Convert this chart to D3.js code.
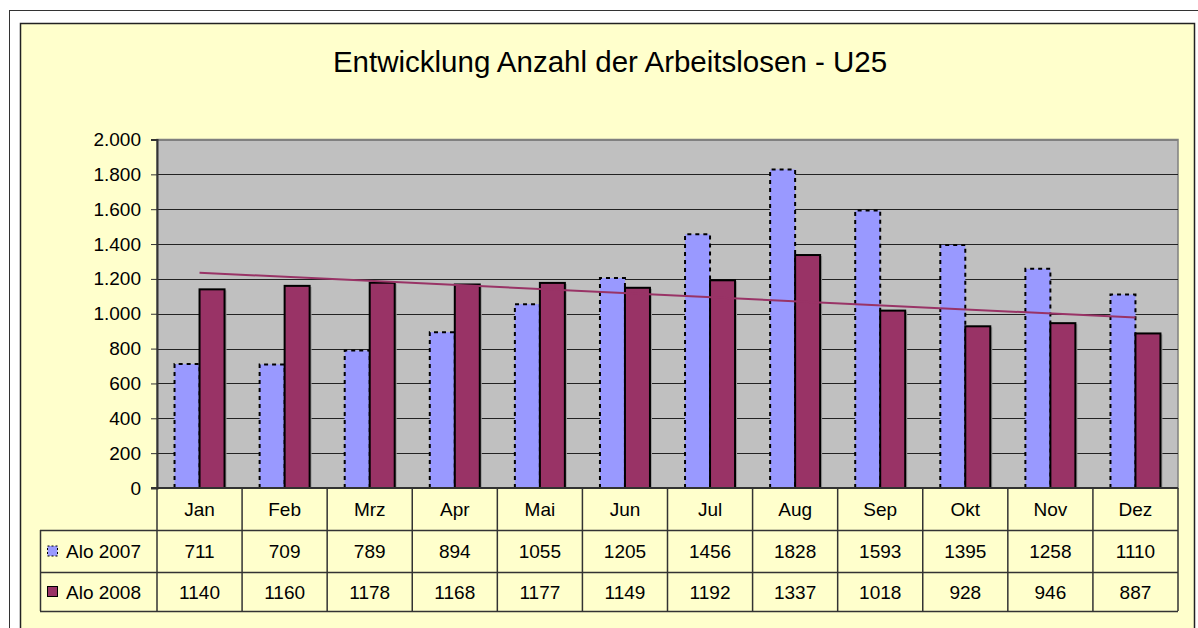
<!DOCTYPE html>
<html>
<head>
<meta charset="utf-8">
<script src="https://cdn.jsdelivr.net/npm/d3@7"></script>
<style>
  body { margin: 0; background: #fff; }
  svg { display: block; font-family: "Liberation Sans", Arial, sans-serif; }
</style>
</head>
<body>
<div id="chart"></div>
<script>
let w = 1198,
    h = 628;

// data
let months = ["Jan", "Feb", "Mrz", "Apr", "Mai", "Jun", "Jul", "Aug", "Sep", "Okt", "Nov", "Dez"];
let alo2007 = [711, 709, 789, 894, 1055, 1205, 1456, 1828, 1593, 1395, 1258, 1110];
let alo2008 = [1140, 1160, 1178, 1168, 1177, 1149, 1192, 1337, 1018, 928, 946, 887];
let seriesNames = ["Alo 2007", "Alo 2008"];
let yTicks = [0, 200, 400, 600, 800, 1000, 1200, 1400, 1600, 1800, 2000];

let plot = { left: 157, right: 1178, top: 139.5, bottom: 488 };
let tableLeft = 40;
let rowY = [488, 530, 572, 611];
let fs = "19px";

let svg = d3.select("#chart")
            .append("svg")
            .attr("width", w)
            .attr("height", h);

// frames
svg.append("rect")
   .attr("x", 9.5).attr("y", 10.5)
   .attr("width", 1200).attr("height", 640)
   .attr("fill", "#fff")
   .attr("stroke", "#333").attr("stroke-width", 1);

svg.append("rect")
   .attr("x", 20.5).attr("y", 23.5)
   .attr("width", 1174).attr("height", 640)
   .attr("fill", "#FFFFCC")
   .attr("stroke", "#222").attr("stroke-width", 1.5);

// title
svg.append("text")
   .attr("x", 610).attr("y", 72)
   .attr("text-anchor", "middle")
   .style("font-size", "29.5px")
   .attr("fill", "#000")
   .text("Entwicklung Anzahl der Arbeitslosen - U25");

let x = d3.scaleBand()
          .domain(months)
          .range([plot.left, plot.right]);

let y = d3.scaleLinear()
          .domain([0, 2000])
          .range([plot.bottom, plot.top]);

// plot background
svg.append("rect")
   .attr("x", plot.left).attr("y", plot.top)
   .attr("width", plot.right - plot.left).attr("height", plot.bottom - plot.top)
   .attr("fill", "#C0C0C0")
   .attr("stroke", "#808080").attr("stroke-width", 1.5);

// gridlines
svg.selectAll(".grid")
   .data(yTicks.slice(1))
   .enter()
   .append("line")
   .attr("x1", plot.left).attr("x2", plot.right)
   .attr("y1", d => Math.round(y(d)) + 0.5)
   .attr("y2", d => Math.round(y(d)) + 0.5)
   .attr("stroke", d => d == 2000 ? "#808080" : "#222")
   .attr("stroke-width", 1);

// y axis
let yAxis = d3.axisLeft(y)
              .tickValues(yTicks)
              .tickSize(6)
              .tickPadding(10)
              .tickFormat(d => d3.format(",")(d).replace(/,/g, "."));

let ya = svg.append("g")
            .attr("transform", "translate(" + plot.left + ",0)")
            .call(yAxis);
ya.select(".domain").attr("stroke", "#333").attr("stroke-width", 2);
ya.selectAll(".tick line").attr("stroke", "#333");
ya.selectAll(".tick text")
  .style("font-size", fs)
  .attr("fill", "#000")
  .attr("font-family", "Liberation Sans, Arial, sans-serif");

let barW = 25;

// 2007 bars
svg.selectAll(".b2007")
   .data(alo2007)
   .enter()
   .append("rect")
   .attr("class", "b2007")
   .attr("x", (d, i) => x(months[i]) + x.bandwidth() / 2 - barW)
   .attr("y", d => y(d))
   .attr("width", barW)
   .attr("height", d => y(0) - y(d))
   .attr("fill", "#9999FF");

svg.selectAll(".b2007edge")
   .data(alo2007)
   .enter()
   .append("path")
   .attr("d", (d, i) => {
     let x0 = x(months[i]) + x.bandwidth() / 2 - barW;
     return "M" + x0 + "," + y(0) + "V" + y(d) + "H" + (x0 + barW) + "V" + y(0);
   })
   .attr("fill", "none")
   .attr("stroke", "#000")
   .attr("stroke-width", 2)
   .attr("stroke-dasharray", "4,4");

// 2008 bars
svg.selectAll(".b2008shadow")
   .data(alo2008)
   .enter()
   .append("rect")
   .attr("x", (d, i) => x(months[i]) + x.bandwidth() / 2 + 2)
   .attr("y", d => y(d) + 1)
   .attr("width", barW)
   .attr("height", d => y(0) - y(d) - 1)
   .attr("fill", "#999");

svg.selectAll(".b2008")
   .data(alo2008)
   .enter()
   .append("rect")
   .attr("class", "b2008")
   .attr("x", (d, i) => x(months[i]) + x.bandwidth() / 2)
   .attr("y", d => y(d))
   .attr("width", barW)
   .attr("height", d => y(0) - y(d))
   .attr("fill", "#993366")
   .attr("stroke", "#000")
   .attr("stroke-width", 2);

// linear trend of 2008
let n = alo2008.length;
let mx = d3.mean(alo2008, (d, i) => i);
let my = d3.mean(alo2008);
let slope = d3.sum(alo2008, (d, i) => (i - mx) * (d - my)) / d3.sum(alo2008, (d, i) => (i - mx) * (i - mx));
let trend = [0, n - 1].map(i => [i, my + slope * (i - mx)]);

svg.append("path")
   .datum(trend)
   .attr("d", d3.line()
     .x(d => x(months[d[0]]) + x.bandwidth() / 2)
     .y(d => y(d[1])))
   .attr("fill", "none")
   .attr("stroke", "#993366")
   .attr("stroke-width", 2);

// baseline
svg.append("line")
   .attr("x1", plot.left - 6).attr("x2", plot.right)
   .attr("y1", plot.bottom).attr("y2", plot.bottom)
   .attr("stroke", "#333").attr("stroke-width", 2);

// data table
let table = svg.append("g");
let lineColor = "#333";

// horizontal lines
table.append("line")
     .attr("x1", plot.left).attr("x2", plot.right)
     .attr("y1", rowY[0]).attr("y2", rowY[0])
     .attr("stroke", lineColor).attr("stroke-width", 1.5);
rowY.slice(1).forEach(ry => {
  table.append("line")
       .attr("x1", tableLeft).attr("x2", plot.right)
       .attr("y1", ry + 0.5).attr("y2", ry + 0.5)
       .attr("stroke", lineColor).attr("stroke-width", 1.5);
});
// vertical lines
table.append("line")
     .attr("x1", tableLeft + 0.5).attr("x2", tableLeft + 0.5)
     .attr("y1", rowY[1]).attr("y2", rowY[3])
     .attr("stroke", lineColor).attr("stroke-width", 1.5);
months.forEach(m => {
  table.append("line")
       .attr("x1", x(m)).attr("x2", x(m))
       .attr("y1", rowY[0]).attr("y2", rowY[3])
       .attr("stroke", lineColor).attr("stroke-width", 1.5);
});
table.append("line")
     .attr("x1", plot.right).attr("x2", plot.right)
     .attr("y1", rowY[0]).attr("y2", rowY[3])
     .attr("stroke", lineColor).attr("stroke-width", 1.5);

// header
table.selectAll(".mlabel")
     .data(months)
     .enter()
     .append("text")
     .attr("x", d => x(d) + x.bandwidth() / 2)
     .attr("y", (rowY[0] + rowY[1]) / 2 + 7)
     .attr("text-anchor", "middle")
     .style("font-size", fs)
     .text(d => d);

[alo2007, alo2008].forEach((series, r) => {
  let cy = (rowY[r + 1] + rowY[r + 2]) / 2;
  table.selectAll(".v" + r)
       .data(series)
       .enter()
       .append("text")
       .attr("x", (d, i) => x(months[i]) + x.bandwidth() / 2)
       .attr("y", cy + 7)
       .attr("text-anchor", "middle")
       .style("font-size", fs)
       .text(d => d);

  // legend key
  let key = table.append("rect")
       .attr("x", 47.5).attr("y", cy - 5)
       .attr("width", 10).attr("height", 10)
       .attr("fill", r == 0 ? "#9999FF" : "#993366");
  if (r == 0) {
    key.attr("stroke", "#000").attr("stroke-width", 1).attr("stroke-dasharray", "2,2");
  } else {
    key.attr("stroke", "#000").attr("stroke-width", 1);
  }

  table.append("text")
       .attr("x", 66)
       .attr("y", cy + 7)
       .style("font-size", fs)
       .text(seriesNames[r]);
});
</script>
</body>
</html>
